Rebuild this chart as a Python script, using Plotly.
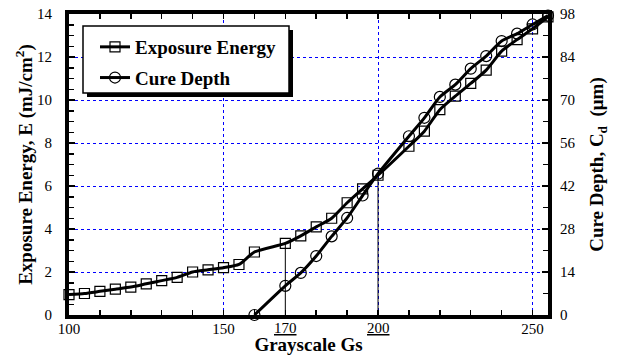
import plotly.graph_objects as go

# ---- data ----
gs_energy = [100, 105, 110, 115, 120, 125, 130, 135, 140, 145, 150, 155, 160, 170, 175, 180,
             185, 190, 195, 200, 210, 215, 220, 225, 230, 235, 240, 245, 250, 255]
energy = [0.95, 1.0, 1.1, 1.2, 1.3, 1.45, 1.6, 1.75, 2.0, 2.1, 2.2, 2.35, 2.93, 3.33, 3.68, 4.1,
          4.5, 5.22, 5.87, 6.5, 7.85, 8.55, 9.55, 10.18, 10.77, 11.39, 12.27, 12.81, 13.31, 13.87]

gs_cure = [160, 170, 175, 180, 185, 190, 195, 200, 210, 215, 220, 225, 230, 235, 240, 245, 250, 255]
cure = [0, 9.5, 13.7, 19.2, 25.6, 31.6, 38.9, 46.0, 58.2, 64.2, 71.0, 75.0, 80.2, 84.3, 89.2,
        91.6, 94.6, 97.5]

ref_gs = [170, 200]
x_major = [100, 150, 200, 250]
x_major_text = ["100", "150", "", "250"]
x_marked = [170, 200]
x_marked_text = ["<u>170</u>", "<u>200</u>"]
y_left_ticks = [0, 2, 4, 6, 8, 10, 12, 14]
y_right_ticks = [0, 14, 28, 42, 56, 70, 84, 98]

FONT = "Liberation Serif, Times New Roman, Times, serif"
e_at = dict(zip(gs_energy, energy))

fig = go.Figure()

for g in ref_gs:
    fig.add_trace(go.Scatter(x=[g, g], y=[0, e_at[g]], mode="lines",
                             line=dict(color="black", width=1), showlegend=False,
                             hoverinfo="skip"))

fig.add_trace(go.Scatter(
    x=gs_energy, y=energy, mode="lines+markers", name="<b>Exposure Energy</b>",
    legendgroup="a",
    line=dict(color="black", width=3, shape="spline", smoothing=0.6),
    marker=dict(symbol="square-open", size=10, color="black", line=dict(width=1.2)),
    cliponaxis=False))

fig.add_trace(go.Scatter(
    x=gs_cure, y=cure, mode="lines+markers", name="<b>Cure Depth</b>", yaxis="y2",
    legendgroup="b",
    line=dict(color="black", width=3, shape="spline", smoothing=0.6),
    marker=dict(symbol="circle-open", size=11, color="black", line=dict(width=1.2)),
    cliponaxis=False))

W, H = 624, 356
L, R, T, B = 69, 76, 14, 41
pw, ph = W - L - R, H - T - B


def px(x):
    return (x - L) / pw


def py(y):
    return (H - B - y) / ph


shapes = [
    dict(type="rect", xref="paper", yref="paper", x0=px(87), x1=px(293), y0=py(97), y1=py(30),
         fillcolor="black", line=dict(width=0), layer="above"),
    dict(type="rect", xref="paper", yref="paper", x0=px(83), x1=px(289), y0=py(93), y1=py(26),
         fillcolor="white", line=dict(color="black", width=1.5), layer="above"),
]

tickfont = dict(family=FONT, size=15, color="black")
titlefont = dict(family=FONT, size=19, color="black")

annotations = [
    dict(x=v, y=py(328), xref="x", yref="paper", text=t, showarrow=False,
         xanchor="center", yanchor="middle", font=tickfont)
    for v, t in zip(x_marked, x_marked_text)
]

fig.update_layout(
    width=W, height=H,
    margin=dict(l=L, r=R, t=T, b=B, autoexpand=False),
    paper_bgcolor="white", plot_bgcolor="white",
    font=dict(family=FONT, color="black"),
    hovermode=False,
    showlegend=True,
    legend=dict(x=px(95), y=py(28), xanchor="left", yanchor="top",
                bgcolor="rgba(0,0,0,0)", borderwidth=0,
                font=dict(family=FONT, size=19, color="black"),
                traceorder="grouped", tracegroupgap=3),
    shapes=shapes,
    annotations=annotations,
    xaxis=dict(range=[100, 255], tickvals=x_major, ticktext=x_major_text, automargin=False,
               ticks="inside", ticklen=5, tickwidth=1.5, tickcolor="black",
               minor=dict(dtick=10, tick0=100, ticks="inside", ticklen=5, tickwidth=1.5,
                          tickcolor="black", showgrid=False),
               showline=True, linewidth=4, linecolor="black", mirror="ticks",
               showgrid=True, gridcolor="#0000ff", griddash="dot", gridwidth=1,
               zeroline=False, tickfont=tickfont, ticklabelstandoff=-3,
               title=dict(text="<b>Grayscale Gs</b>", font=titlefont, standoff=3)),
    yaxis=dict(range=[0, 14], tickvals=y_left_ticks, ticks="inside", ticklen=6, tickwidth=1.5,
               tickcolor="black", automargin=False,
               minor=dict(dtick=0.5, ticks="inside", ticklen=5, tickwidth=1.5,
                          tickcolor="black", showgrid=False),
               showline=True, linewidth=4, linecolor="black", mirror=True,
               showgrid=True, gridcolor="#0000ff", griddash="dot", gridwidth=1,
               zeroline=False, tickfont=tickfont, ticklabelstandoff=10,
               title=dict(text="<b>Exposure Energy, E (mJ/cm<sup>2</sup>)</b>", font=titlefont,
                          standoff=0)),
    yaxis2=dict(range=[0, 98], overlaying="y", side="right", anchor="x", automargin=False,
                tickvals=y_right_ticks, ticks="inside", ticklen=6, tickwidth=1.5,
                tickcolor="black",
                minor=dict(dtick=7, ticks="inside", ticklen=5, tickwidth=1.5, tickcolor="black",
                           showgrid=False),
                showline=True, linewidth=4, linecolor="black", showgrid=False,
                zeroline=False, tickfont=tickfont, ticklabelstandoff=5,
                title=dict(text="<b>Cure Depth, C<sub>d</sub>  (\u03bcm)</b>", font=titlefont,
                           standoff=16)),
)

fig.write_html("out.html", config={"displayModeBar": False, "staticPlot": True},
               post_script="document.body.style.margin='0';")
